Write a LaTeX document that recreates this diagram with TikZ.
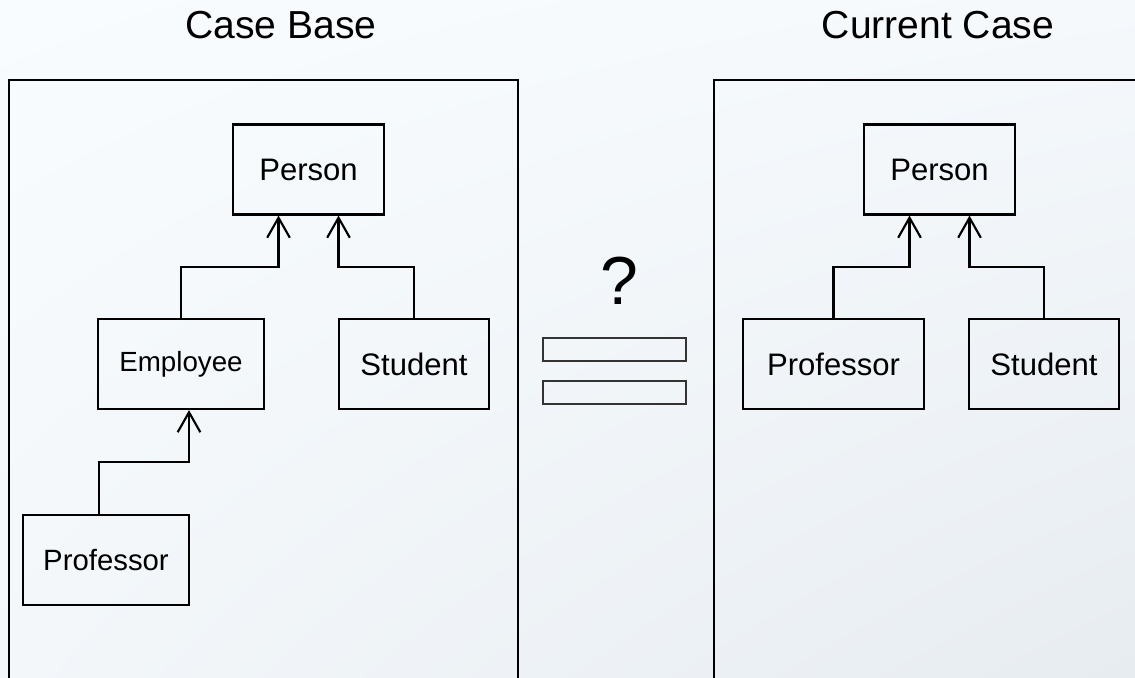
\documentclass[tikz,border=0pt]{standalone}
\usepackage{fontspec}
\setmainfont{Liberation Sans}
\usetikzlibrary{arrows.meta,calc,shadings}
\definecolor{bgTL}{HTML}{F8FCFE}
\definecolor{bgTR}{HTML}{F5F9FC}
\definecolor{bgBL}{HTML}{F3F7FA}
\definecolor{bgBR}{HTML}{E7ECF1}
\definecolor{eqline}{HTML}{333333}
\tikzset{
  frame/.style={line width=1.6pt, draw=black},
  cls/.style={draw=black, line width=1.6pt, minimum height=90*0.75pt, inner sep=0pt,
              font=\fontsize{23.3}{28}\selectfont},
  arr/.style={line width=1.6pt, -{Straight Barb[length=15pt,width=17pt,line width=1.6pt]}},
  title/.style={font=\fontsize{29.3}{34}\selectfont},
  eqbar/.style={draw=eqline, line width=1.1pt, minimum width=143*0.75pt, minimum height=23*0.75pt, inner sep=0pt},
}
\begin{document}
\begin{tikzpicture}[x=0.75pt,y=-0.75pt]
\useasboundingbox (0,0) rectangle (1135,678);
\shade[upper left=bgTL, upper right=bgTR, lower left=bgBL, lower right=bgBR] (0,0) rectangle (1135,678);
\begin{scope}
\clip (0,0) rectangle (1135,678);
\draw[frame] (9,700) -- (9,80) -- (518,80) -- (518,700);
\draw[frame] (714,700) -- (714,80) -- (1250,80) -- (1250,700);
\end{scope}
% titles
\node[title] (t1) at (281,25) {Case Base};
\node[title] (t2) at (938,25) {Current Case};
% left
\node[cls, minimum width=151*0.75pt] (lp) at (308.5,169.5) {Person};
\node[cls, minimum width=166*0.75pt, font=\fontsize{20.8}{25}\selectfont] (le) at (181,364) {Employee};
\node[cls, minimum width=150*0.75pt] (ls) at (414,364) {Student};
\node[cls, minimum width=166*0.75pt, font=\fontsize{22}{26}\selectfont] (lf) at (106,560) {Professor};
% right
\node[cls, minimum width=151*0.75pt] (rp) at (939.5,169.5) {Person};
\node[cls, minimum width=181*0.75pt] (rf) at (833.5,364) {Professor};
\node[cls, minimum width=150*0.75pt] (rs) at (1044,364) {Student};
% middle
\node[font=\fontsize{51}{60}\selectfont] (q) at (619,281) {?};
\node[eqbar] (eq1) at (614.5,349.5) {};
\node[eqbar] (eq2) at (614.5,392.5) {};
% connector levels
\coordinate (lv1) at (0,267);
\coordinate (lv2) at (0,462);
\coordinate (lpl) at ($(lp.south)+(-30,0)$);
\coordinate (lpr) at ($(lp.south)+(30,0)$);
\coordinate (rpl) at ($(rp.south)+(-30,0)$);
\coordinate (rpr) at ($(rp.south)+(30,0)$);
\coordinate (lfo) at ($(lf.north)+(-7,0)$);
\coordinate (lei) at ($(le.south)+(8,0)$);
\draw[arr] (le.north) -- (le.north |- lv1) -| (lpl);
\draw[arr] (ls.north) -- (ls.north |- lv1) -| (lpr);
\draw[arr] (lfo) -- (lfo |- lv2) -| (lei);
\draw[arr] (rf.north) -- (rf.north |- lv1) -| (rpl);
\draw[arr] (rs.north) -- (rs.north |- lv1) -| (rpr);
\end{tikzpicture}
\end{document}
